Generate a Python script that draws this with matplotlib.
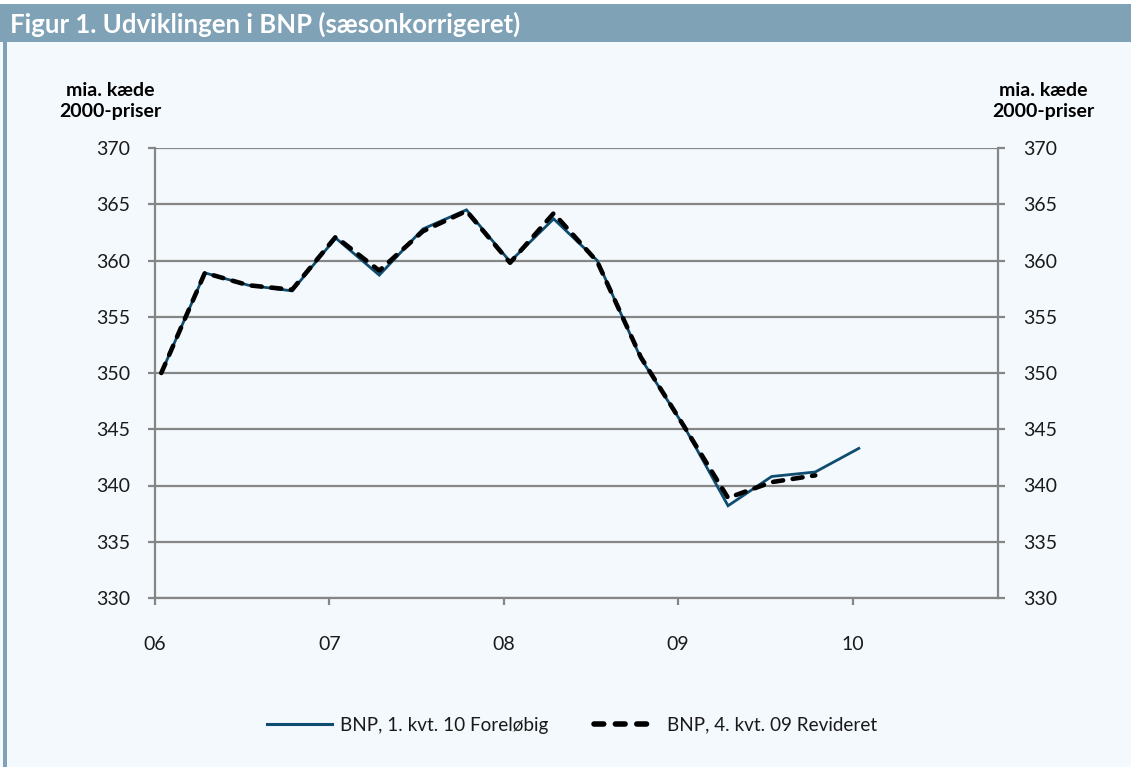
import numpy as np
import matplotlib.pyplot as plt
from matplotlib.patches import Rectangle
from matplotlib.lines import Line2D

# BNP, mia. kr. kaedede 2000-priser, kvartaler 2006K1 - 2010K1
quarters = ['06K1', '06K2', '06K3', '06K4', '07K1', '07K2', '07K3', '07K4',
            '08K1', '08K2', '08K3', '08K4', '09K1', '09K2', '09K3', '09K4', '10K1']
bnp_foreloebig = [350.0, 358.9, 357.8, 357.3, 362.0, 358.7, 362.8, 364.5,
                  359.9, 363.7, 360.0, 351.3, 345.2, 338.2, 340.8, 341.2, 343.3]
bnp_revideret = [350.0, 358.9, 357.8, 357.4, 362.1, 359.1, 362.6, 364.4,
                 359.8, 364.2, 359.9, 351.4, 345.2, 338.9, 340.3, 340.9]
year_ticks = [2006, 2007, 2008, 2009, 2010]
year_labels = ['06', '07', '08', '09', '10']

labels = ['BNP, 1. kvt. 10 Foreløbig', 'BNP, 4. kvt. 09 Revideret']
title = 'Figur 1. Udviklingen i BNP (sæsonkorrigeret)'
unit = 'mia. kæde\n2000-priser'

bg = '#f4f9fd'
bar = '#7fa2b7'
grid = '#868686'
blue = '#0e4c70'

plt.rcParams['font.family'] = ['Lato', 'DejaVu Sans']


def qpos(q):
    # quarter label -> decimal year (points sit slightly after the year tick)
    return 2000 + int(q[:2]) + (int(q[3]) - 1) / 4 + 0.036


x1 = [qpos(q) for q in quarters]
x2 = x1[:len(bnp_revideret)]

fig = plt.figure(figsize=(11.31, 7.67), dpi=100, facecolor=bg)

# title bar and left border
fig.patches.append(Rectangle((0, 1 - 42 / 767), 1, 38 / 767, transform=fig.transFigure,
                             facecolor=bar, edgecolor='none', zorder=0))
fig.patches.append(Rectangle((0, 1 - 4 / 767), 1, 4 / 767, transform=fig.transFigure,
                             facecolor='white', edgecolor='none', zorder=0))
fig.patches.append(Rectangle((3 / 1131, 0), 4 / 1131, 1 - 42 / 767, transform=fig.transFigure,
                             facecolor=bar, edgecolor='none', zorder=0))
fig.text(10 / 1131, 1 - 24 / 767, title, color='white', fontsize=18.5, fontweight='bold',
         va='center', ha='left')

ax = fig.add_axes([155 / 1131, 1 - 598 / 767, (998 - 155) / 1131, (598 - 148) / 767])
ax.set_facecolor(bg)

ax.plot(x1, bnp_foreloebig, color=blue, lw=2.0, zorder=3, solid_joinstyle='miter')
ax.plot(x2, bnp_revideret, color='black', lw=3.3, dashes=(2.2, 2.1),
        dash_capstyle='round', zorder=4)

ax.set_ylim(330, 370)
ax.set_yticks(np.arange(330, 371, 5))
ax.set_xlim(2006, 2010.834)
ax.set_xticks(year_ticks)
ax.set_xticklabels(year_labels)

ax.yaxis.grid(True, color=grid, lw=1.6)
ax.set_axisbelow(True)
ax.spines['top'].set_visible(False)
for s in ['left', 'right', 'bottom']:
    ax.spines[s].set_color(grid)
    ax.spines[s].set_linewidth(1.6)

ax.tick_params(axis='y', which='both', left=True, right=True, labelleft=True, labelright=True,
               direction='out', length=5, width=1.6, color=grid, labelsize=14, pad=13)
ax.tick_params(axis='x', direction='out', length=5, width=1.6, color=grid, labelsize=14, pad=22)
for lab in ax.get_yticklabels() + ax.get_xticklabels():
    lab.set_color('#1a1a1a')

fig.text(110 / 1131, 1 - 101 / 767, unit, ha='center', va='center', fontsize=14,
         fontweight='bold', linespacing=1.3)
fig.text(1043 / 1131, 1 - 101 / 767, unit, ha='center', va='center', fontsize=14,
         fontweight='bold', linespacing=1.3)

handles = [Line2D([], [], color=blue, lw=2.2),
           Line2D([], [], color='black', lw=4, dashes=(1.75, 2.1), dash_capstyle='round')]
fig.legend(handles, labels, loc='center', bbox_to_anchor=(572 / 1131, 1 - 725 / 767),
           ncol=2, frameon=False, fontsize=13.6, handlelength=3.4, columnspacing=2.4,
           handletextpad=0.45, labelcolor='#1a1a1a')

fig.savefig('out.png', dpi=100, facecolor=bg)
